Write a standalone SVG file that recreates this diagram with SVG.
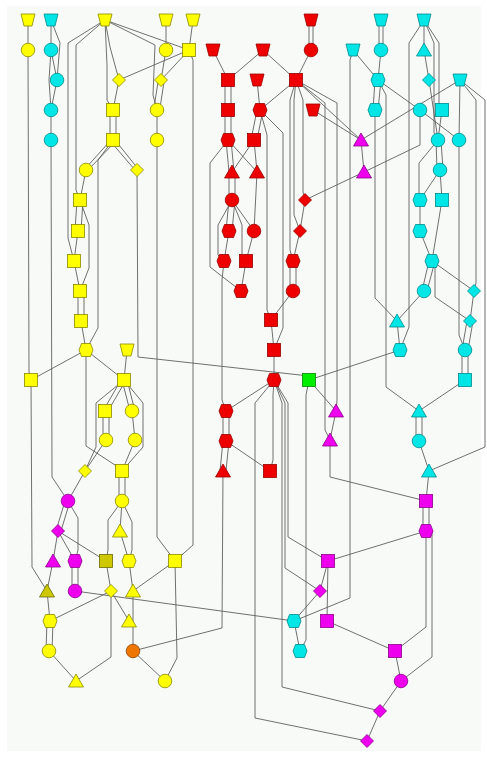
<svg xmlns="http://www.w3.org/2000/svg" xmlns:xlink="http://www.w3.org/1999/xlink" width="487" height="757" viewBox="0 0 487 757">
<style>
.e polyline{fill:none;stroke:#606060;stroke-width:0.9}
.Y{fill:#ffff00;stroke:#8a8a00;stroke-width:0.8}
.O{fill:#cdc800;stroke:#6b6b00;stroke-width:0.8}
.C{fill:#00e5e5;stroke:#008b8b;stroke-width:0.8}
.R{fill:#ee0000;stroke:#990000;stroke-width:0.8}
.M{fill:#ee00ee;stroke:#8b008b;stroke-width:0.8}
.G{fill:#00ee00;stroke:#008800;stroke-width:0.8}
.OR{fill:#ee7600;stroke:#8b4500;stroke-width:0.8}
</style>
<defs>
<path id="trap" d="M-7,-6H7L4,6H-4Z"/>
<circle id="circ" r="6.8"/>
<rect id="sq" x="-6.5" y="-6.5" width="13" height="13"/>
<path id="tri" d="M0,-7L7.5,6H-7.5Z"/>
<path id="dia" d="M0,-6.5L6.5,0L0,6.5L-6.5,0Z"/>
<path id="hex" d="M-4.5,-6.5H4.5L7,0L4.5,6.5H-4.5L-7,0Z"/>
</defs>
<rect width="487" height="757" fill="#ffffff"/>
<rect x="7" y="6" width="474" height="745" fill="#f8faf8"/>
<g id="edges" class="e">
<polyline points="28,20 28,50"/>
<polyline points="28,50 29,372 31,380"/>
<polyline points="105,20 110,47 119,80"/>
<polyline points="105,20 107,65 107,100 113,110"/>
<polyline points="105,20 76,45 76,190 80,200"/>
<polyline points="105,20 68,43 68,238 74,261"/>
<polyline points="105,20 189,50"/>
<polyline points="105,20 155,45 153,95 157,110"/>
<polyline points="166,20 166,50"/>
<polyline points="193,20 189,50"/>
<polyline points="166,50 161,80"/>
<polyline points="189,50 161,80"/>
<polyline points="119,80 189,50"/>
<polyline points="119,80 113,110"/>
<polyline points="158,82 154,108"/>
<polyline points="164,82 160,108"/>
<polyline points="110,110 110,140"/>
<polyline points="116,110 116,140"/>
<polyline points="157,110 157,140"/>
<polyline points="189,50 193,60 193,545 175,561"/>
<polyline points="157,140 157,537 175,561"/>
<polyline points="111,140 84,170"/>
<polyline points="115,142 88,170"/>
<polyline points="113,140 98,160 98,328 86,350"/>
<polyline points="111,142 135,170"/>
<polyline points="115,140 139,170"/>
<polyline points="86,170 80,200"/>
<polyline points="77,200 75,231"/>
<polyline points="83,200 81,231"/>
<polyline points="80,200 89,225 89,268 80,291"/>
<polyline points="78,231 74,261"/>
<polyline points="74,261 80,291"/>
<polyline points="78,291 78,321"/>
<polyline points="84,291 84,321"/>
<polyline points="81,321 86,350"/>
<polyline points="137,170 138,357 309,376"/>
<polyline points="309,380 400,350"/>
<polyline points="127,350 124,380"/>
<polyline points="86,350 31,380"/>
<polyline points="86,350 124,380"/>
<polyline points="86,350 86,446 115,465 122,471"/>
<polyline points="31,380 32,567 47,591"/>
<polyline points="121,380 103,411"/>
<polyline points="126,380 108,411"/>
<polyline points="124,380 96,403 96,447 85,471"/>
<polyline points="122,380 130,411"/>
<polyline points="127,380 135,411"/>
<polyline points="124,380 143,403 143,447 122,471"/>
<polyline points="103,411 103,440"/>
<polyline points="109,411 109,440"/>
<polyline points="132,411 135,440"/>
<polyline points="106,440 85,471"/>
<polyline points="135,440 122,471"/>
<polyline points="85,471 68,501"/>
<polyline points="119,471 119,501"/>
<polyline points="125,471 125,501"/>
<polyline points="122,501 120,531"/>
<polyline points="122,501 108,520 108,550 106,561"/>
<polyline points="122,501 132,522 132,550 129,561"/>
<polyline points="120,531 129,561"/>
<polyline points="106,561 111,591"/>
<polyline points="129,561 133,591"/>
<polyline points="175,561 133,591"/>
<polyline points="111,591 50,621"/>
<polyline points="111,591 129,621"/>
<polyline points="111,591 111,657 76,681"/>
<polyline points="133,591 133,651"/>
<polyline points="47,591 50,621"/>
<polyline points="47,621 46,651"/>
<polyline points="53,621 52,651"/>
<polyline points="49,651 76,681"/>
<polyline points="133,651 165,681"/>
<polyline points="175,561 177,658 165,681"/>
<polyline points="224,261 222,280 222,400 226,411"/>
<polyline points="223,471 222,628 133,651"/>
<polyline points="53,561 47,591"/>
<polyline points="58,531 106,561"/>
<polyline points="51,20 51,50"/>
<polyline points="51,20 60,43 57,80"/>
<polyline points="51,50 57,80"/>
<polyline points="51,50 49,80 51,110"/>
<polyline points="57,80 51,110"/>
<polyline points="51,110 51,140"/>
<polyline points="51,140 52,477 68,501"/>
<polyline points="379,20 379,50"/>
<polyline points="383,20 383,50"/>
<polyline points="381,50 378,80"/>
<polyline points="353,50 378,80"/>
<polyline points="353,50 350,60 350,598 294,621"/>
<polyline points="375,80 373,110"/>
<polyline points="381,80 378,110"/>
<polyline points="378,80 420,110"/>
<polyline points="378,80 386,95 386,387 419,411"/>
<polyline points="424,20 424,50"/>
<polyline points="424,20 409,43 409,327 400,350"/>
<polyline points="424,20 434,43 434,133 438,140"/>
<polyline points="424,20 439,43 439,103 442,110"/>
<polyline points="424,50 429,80"/>
<polyline points="429,80 438,140"/>
<polyline points="460,80 361,140"/>
<polyline points="460,80 459,140"/>
<polyline points="460,80 476,100 476,283 474,291"/>
<polyline points="460,80 485,100 485,447 429,471"/>
<polyline points="420,110 459,140"/>
<polyline points="420,110 420,145 364,172"/>
<polyline points="442,110 438,140"/>
<polyline points="436,140 437,170"/>
<polyline points="441,140 443,170"/>
<polyline points="440,170 420,200"/>
<polyline points="440,170 442,200"/>
<polyline points="438,140 419,163 419,195"/>
<polyline points="420,200 420,231"/>
<polyline points="420,231 432,261"/>
<polyline points="442,200 432,261"/>
<polyline points="429,261 422,291"/>
<polyline points="435,261 427,291"/>
<polyline points="432,261 474,291"/>
<polyline points="432,261 435,267 435,297 470,321"/>
<polyline points="424,291 397,321"/>
<polyline points="375,110 375,298 397,321"/>
<polyline points="474,291 470,321"/>
<polyline points="467,321 462,350"/>
<polyline points="473,321 468,350"/>
<polyline points="459,140 459,335 465,350"/>
<polyline points="462,350 462,380"/>
<polyline points="468,350 468,380"/>
<polyline points="397,321 400,350"/>
<polyline points="465,380 419,411"/>
<polyline points="416,411 416,441"/>
<polyline points="422,411 422,441"/>
<polyline points="419,441 429,471"/>
<polyline points="429,471 426,501"/>
<polyline points="294,621 300,651"/>
<polyline points="294,621 320,591"/>
<polyline points="309,380 306,395 306,640 300,651"/>
<polyline points="75,591 294,621"/>
<polyline points="309,20 309,50"/>
<polyline points="313,20 313,50"/>
<polyline points="311,50 296,80"/>
<polyline points="263,50 296,80"/>
<polyline points="263,50 228,80"/>
<polyline points="213,50 228,80"/>
<polyline points="225,80 225,110"/>
<polyline points="231,80 231,110"/>
<polyline points="225,110 225,140"/>
<polyline points="231,110 231,140"/>
<polyline points="257,80 260,110"/>
<polyline points="296,80 260,110"/>
<polyline points="296,80 361,140"/>
<polyline points="296,80 337,103 337,400 336,411"/>
<polyline points="296,80 325,103 325,430 330,440"/>
<polyline points="296,80 290,100 290,250 293,261"/>
<polyline points="296,80 294,100 294,215 300,231"/>
<polyline points="296,80 303,100 303,192 305,200"/>
<polyline points="313,110 361,140"/>
<polyline points="257,110 251,140"/>
<polyline points="263,110 257,140"/>
<polyline points="260,110 267,135 267,310 271,320"/>
<polyline points="260,110 283,133 283,328 274,350"/>
<polyline points="226,140 229,172"/>
<polyline points="231,140 234,172"/>
<polyline points="228,140 257,172"/>
<polyline points="228,140 210,163 210,267 241,291"/>
<polyline points="254,140 232,172"/>
<polyline points="254,140 257,172"/>
<polyline points="229,172 229,200"/>
<polyline points="235,172 235,200"/>
<polyline points="257,172 254,231"/>
<polyline points="229,200 226,231"/>
<polyline points="235,200 232,231"/>
<polyline points="232,200 218,225 218,255 224,261"/>
<polyline points="232,200 242,225 242,255 246,261"/>
<polyline points="232,200 254,231"/>
<polyline points="229,231 224,261"/>
<polyline points="254,231 246,261"/>
<polyline points="246,261 241,291"/>
<polyline points="364,172 305,200"/>
<polyline points="361,140 364,172"/>
<polyline points="305,200 300,231"/>
<polyline points="300,231 293,261"/>
<polyline points="290,261 290,291"/>
<polyline points="296,261 296,291"/>
<polyline points="293,291 271,320"/>
<polyline points="271,320 274,350"/>
<polyline points="274,350 274,380"/>
<polyline points="274,380 226,411"/>
<polyline points="223,411 223,441"/>
<polyline points="229,411 229,441"/>
<polyline points="223,441 220,471"/>
<polyline points="229,441 226,471"/>
<polyline points="226,441 270,471"/>
<polyline points="274,380 273,395 273,460 270,471"/>
<polyline points="274,380 255,403 255,718 367,741"/>
<polyline points="274,380 282,403 282,687 380,711"/>
<polyline points="274,380 285,403 285,568 320,591"/>
<polyline points="274,380 288,403 288,537 328,561"/>
<polyline points="309,380 336,411"/>
<polyline points="336,411 330,440"/>
<polyline points="330,440 330,477 426,501"/>
<polyline points="423,501 423,531"/>
<polyline points="429,501 429,531"/>
<polyline points="426,531 328,561"/>
<polyline points="426,531 426,627 395,651"/>
<polyline points="432,531 432,657 401,681"/>
<polyline points="328,561 320,591"/>
<polyline points="328,561 327,621"/>
<polyline points="327,621 395,651"/>
<polyline points="395,651 401,681"/>
<polyline points="401,681 380,711"/>
<polyline points="380,711 367,741"/>
<polyline points="65,501 56,531"/>
<polyline points="70,501 61,531"/>
<polyline points="68,501 78,518 78,550 75,561"/>
<polyline points="58,531 53,561"/>
<polyline points="58,531 75,561"/>
<polyline points="72,561 72,591"/>
<polyline points="78,561 78,591"/>
</g>
<g id="y1" class="Y"><use href="#trap" x="28" y="20"/></g>
<g id="y2" class="Y"><use href="#trap" x="105" y="20"/></g>
<g id="y3" class="Y"><use href="#trap" x="166" y="20"/></g>
<g id="y4" class="Y"><use href="#trap" x="193" y="20"/></g>
<g id="y5" class="Y"><use href="#circ" x="28" y="50"/></g>
<g id="y6" class="Y"><use href="#circ" x="166" y="50"/></g>
<g id="y7" class="Y"><use href="#sq" x="189" y="50"/></g>
<g id="y8" class="Y"><use href="#dia" x="119" y="80"/></g>
<g id="y9" class="Y"><use href="#dia" x="161" y="80"/></g>
<g id="y10" class="Y"><use href="#sq" x="113" y="110"/></g>
<g id="y11" class="Y"><use href="#circ" x="157" y="110"/></g>
<g id="y12" class="Y"><use href="#sq" x="113" y="140"/></g>
<g id="y13" class="Y"><use href="#circ" x="157" y="140"/></g>
<g id="y14" class="Y"><use href="#circ" x="86" y="170"/></g>
<g id="y15" class="Y"><use href="#dia" x="137" y="170"/></g>
<g id="y16" class="Y"><use href="#sq" x="80" y="200"/></g>
<g id="y17" class="Y"><use href="#sq" x="78" y="231"/></g>
<g id="y18" class="Y"><use href="#sq" x="74" y="261"/></g>
<g id="y19" class="Y"><use href="#sq" x="80" y="291"/></g>
<g id="y20" class="Y"><use href="#sq" x="81" y="321"/></g>
<g id="y21" class="Y"><use href="#hex" x="86" y="350"/></g>
<g id="y22" class="Y"><use href="#trap" x="127" y="350"/></g>
<g id="y23" class="Y"><use href="#sq" x="31" y="380"/></g>
<g id="y24" class="Y"><use href="#sq" x="124" y="380"/></g>
<g id="y25" class="Y"><use href="#sq" x="105" y="411"/></g>
<g id="y26" class="Y"><use href="#circ" x="132" y="411"/></g>
<g id="y27" class="Y"><use href="#circ" x="106" y="440"/></g>
<g id="y28" class="Y"><use href="#circ" x="135" y="440"/></g>
<g id="y29" class="Y"><use href="#dia" x="85" y="471"/></g>
<g id="y30" class="Y"><use href="#sq" x="122" y="471"/></g>
<g id="y31" class="Y"><use href="#circ" x="122" y="501"/></g>
<g id="y32" class="Y"><use href="#tri" x="120" y="531"/></g>
<g id="y33" class="O"><use href="#sq" x="106" y="561"/></g>
<g id="y34" class="Y"><use href="#hex" x="129" y="561"/></g>
<g id="y35" class="Y"><use href="#sq" x="175" y="561"/></g>
<g id="y36" class="O"><use href="#tri" x="47" y="591"/></g>
<g id="y37" class="Y"><use href="#dia" x="111" y="591"/></g>
<g id="y38" class="Y"><use href="#tri" x="133" y="591"/></g>
<g id="y39" class="Y"><use href="#hex" x="50" y="621"/></g>
<g id="y40" class="Y"><use href="#tri" x="129" y="621"/></g>
<g id="y41" class="Y"><use href="#circ" x="49" y="651"/></g>
<g id="y42" class="OR"><use href="#circ" x="133" y="651"/></g>
<g id="y43" class="Y"><use href="#tri" x="76" y="681"/></g>
<g id="y44" class="Y"><use href="#circ" x="165" y="681"/></g>
<g id="c1" class="C"><use href="#trap" x="51" y="20"/></g>
<g id="c2" class="C"><use href="#trap" x="381" y="20"/></g>
<g id="c3" class="C"><use href="#trap" x="424" y="20"/></g>
<g id="c4" class="C"><use href="#circ" x="51" y="50"/></g>
<g id="c5" class="C"><use href="#trap" x="353" y="50"/></g>
<g id="c6" class="C"><use href="#circ" x="381" y="50"/></g>
<g id="c7" class="C"><use href="#tri" x="424" y="50"/></g>
<g id="c8" class="C"><use href="#circ" x="57" y="80"/></g>
<g id="c9" class="C"><use href="#hex" x="378" y="80"/></g>
<g id="c10" class="C"><use href="#dia" x="429" y="80"/></g>
<g id="c11" class="C"><use href="#trap" x="460" y="80"/></g>
<g id="c12" class="C"><use href="#circ" x="51" y="110"/></g>
<g id="c13" class="C"><use href="#hex" x="375" y="110"/></g>
<g id="c14" class="C"><use href="#circ" x="420" y="110"/></g>
<g id="c15" class="C"><use href="#sq" x="442" y="110"/></g>
<g id="c16" class="C"><use href="#circ" x="51" y="140"/></g>
<g id="c17" class="C"><use href="#circ" x="438" y="140"/></g>
<g id="c18" class="C"><use href="#circ" x="459" y="140"/></g>
<g id="c19" class="C"><use href="#circ" x="440" y="170"/></g>
<g id="c20" class="C"><use href="#hex" x="420" y="200"/></g>
<g id="c21" class="C"><use href="#sq" x="442" y="200"/></g>
<g id="c22" class="C"><use href="#hex" x="420" y="231"/></g>
<g id="c23" class="C"><use href="#hex" x="432" y="261"/></g>
<g id="c24" class="C"><use href="#circ" x="424" y="291"/></g>
<g id="c25" class="C"><use href="#dia" x="474" y="291"/></g>
<g id="c26" class="C"><use href="#tri" x="397" y="321"/></g>
<g id="c27" class="C"><use href="#dia" x="470" y="321"/></g>
<g id="c28" class="C"><use href="#hex" x="400" y="350"/></g>
<g id="c29" class="C"><use href="#circ" x="465" y="350"/></g>
<g id="c30" class="C"><use href="#sq" x="465" y="380"/></g>
<g id="c31" class="C"><use href="#tri" x="419" y="411"/></g>
<g id="c32" class="C"><use href="#circ" x="419" y="441"/></g>
<g id="c33" class="C"><use href="#tri" x="429" y="471"/></g>
<g id="c34" class="C"><use href="#hex" x="294" y="621"/></g>
<g id="c35" class="C"><use href="#hex" x="300" y="651"/></g>
<g id="r1" class="R"><use href="#trap" x="311" y="20"/></g>
<g id="r2" class="R"><use href="#trap" x="213" y="50"/></g>
<g id="r3" class="R"><use href="#trap" x="263" y="50"/></g>
<g id="r4" class="R"><use href="#circ" x="311" y="50"/></g>
<g id="r5" class="R"><use href="#sq" x="228" y="80"/></g>
<g id="r6" class="R"><use href="#trap" x="257" y="80"/></g>
<g id="r7" class="R"><use href="#sq" x="296" y="80"/></g>
<g id="r8" class="R"><use href="#sq" x="228" y="110"/></g>
<g id="r9" class="R"><use href="#hex" x="260" y="110"/></g>
<g id="r10" class="R"><use href="#trap" x="313" y="110"/></g>
<g id="r11" class="R"><use href="#hex" x="228" y="140"/></g>
<g id="r12" class="R"><use href="#sq" x="254" y="140"/></g>
<g id="r13" class="R"><use href="#tri" x="232" y="172"/></g>
<g id="r14" class="R"><use href="#tri" x="257" y="172"/></g>
<g id="r15" class="R"><use href="#circ" x="232" y="200"/></g>
<g id="r16" class="R"><use href="#dia" x="305" y="200"/></g>
<g id="r17" class="R"><use href="#hex" x="229" y="231"/></g>
<g id="r18" class="R"><use href="#circ" x="254" y="231"/></g>
<g id="r19" class="R"><use href="#dia" x="300" y="231"/></g>
<g id="r20" class="R"><use href="#hex" x="224" y="261"/></g>
<g id="r21" class="R"><use href="#sq" x="246" y="261"/></g>
<g id="r22" class="R"><use href="#hex" x="293" y="261"/></g>
<g id="r23" class="R"><use href="#hex" x="241" y="291"/></g>
<g id="r24" class="R"><use href="#circ" x="293" y="291"/></g>
<g id="r25" class="R"><use href="#sq" x="271" y="320"/></g>
<g id="r26" class="R"><use href="#sq" x="274" y="350"/></g>
<g id="r27" class="R"><use href="#hex" x="274" y="380"/></g>
<g id="r28" class="R"><use href="#hex" x="226" y="411"/></g>
<g id="r29" class="R"><use href="#hex" x="226" y="441"/></g>
<g id="r30" class="R"><use href="#tri" x="223" y="471"/></g>
<g id="r31" class="R"><use href="#sq" x="270" y="471"/></g>
<g id="g1" class="G"><use href="#sq" x="309" y="380"/></g>
<g id="m1" class="M"><use href="#tri" x="361" y="140"/></g>
<g id="m2" class="M"><use href="#tri" x="364" y="172"/></g>
<g id="m3" class="M"><use href="#tri" x="336" y="411"/></g>
<g id="m4" class="M"><use href="#tri" x="330" y="440"/></g>
<g id="m5" class="M"><use href="#circ" x="68" y="501"/></g>
<g id="m6" class="M"><use href="#sq" x="426" y="501"/></g>
<g id="m7" class="M"><use href="#dia" x="58" y="531"/></g>
<g id="m8" class="M"><use href="#hex" x="426" y="531"/></g>
<g id="m9" class="M"><use href="#tri" x="53" y="561"/></g>
<g id="m10" class="M"><use href="#hex" x="75" y="561"/></g>
<g id="m11" class="M"><use href="#sq" x="328" y="561"/></g>
<g id="m12" class="M"><use href="#circ" x="75" y="591"/></g>
<g id="m13" class="M"><use href="#dia" x="320" y="591"/></g>
<g id="m14" class="M"><use href="#sq" x="327" y="621"/></g>
<g id="m15" class="M"><use href="#sq" x="395" y="651"/></g>
<g id="m16" class="M"><use href="#circ" x="401" y="681"/></g>
<g id="m17" class="M"><use href="#dia" x="380" y="711"/></g>
<g id="m18" class="M"><use href="#dia" x="367" y="741"/></g>
</svg>
